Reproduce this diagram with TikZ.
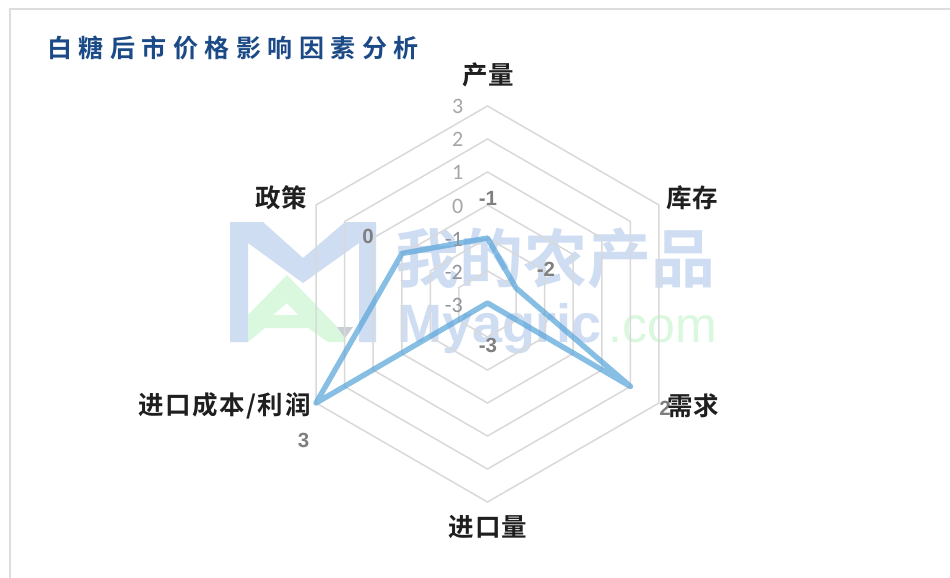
\documentclass[tikz,border=0pt]{standalone}
\usepackage{fontspec}
\setmainfont{Liberation Sans}
\newfontfamily\cjkwm[BoldFont={Noto Sans CJK SC Bold}]{Noto Sans CJK SC}
\newfontfamily\cjktitle[LetterSpace=26,BoldFont={Noto Sans CJK SC Bold}]{Noto Sans CJK SC}
\newfontfamily\cjklab[LetterSpace=3,BoldFont={Noto Sans CJK SC Bold}]{Noto Sans CJK SC}
\newfontfamily\cjklabwide[LetterSpace=6,BoldFont={Noto Sans CJK SC Bold}]{Noto Sans CJK SC}
\newfontfamily\tickfont{Carlito}
\usetikzlibrary{calc}
\definecolor{gridc}{HTML}{D9D9D9}
\definecolor{framec}{HTML}{DDDDDD}
\definecolor{tickc}{HTML}{A6A6A6}
\definecolor{tickd}{HTML}{8F939A}
\definecolor{datac}{HTML}{7F7F7F}
\definecolor{seriesc}{HTML}{5AA5DA}
\definecolor{wmblue}{HTML}{CFDDF3}
\definecolor{wmgreen}{HTML}{DAF8DE}
\definecolor{wmgrey}{HTML}{C9CED4}
\definecolor{titlec}{HTML}{1C4A86}
\tikzset{
  x=1pt,y=-1pt,
  ringline/.style={draw=gridc,line width=1.5pt,line join=miter},
  framel/.style={draw=framec,line width=2pt},
  serieline/.style={draw=seriesc,line width=5.4pt,opacity=.72,line join=round},
  catlab/.style={font=\fontsize{25.5}{25.5}\selectfont\cjklab\bfseries,text=black!88,inner sep=0pt},
  ticklab/.style={font=\fontsize{22}{22}\selectfont\tickfont,text=tickc,inner sep=0pt,anchor=east},
  datalab/.style={font=\fontsize{20.5}{20.5}\selectfont\bfseries,text=datac,inner sep=0pt},
  wmtext/.style={inner sep=0pt,anchor=base west},
}
\begin{document}
\begin{tikzpicture}
\useasboundingbox (0,0) rectangle (950,578);
\fill[white] (0,0) rectangle (950,578);
% frame
\coordinate (fa) at (9.5,578);
\coordinate (fb) at (9.5,9.5);
\coordinate (fc) at (950,9.5);
\draw[framel] (fa) -- (fb) -- (fc);
% watermark logo
\fill[wmblue] (230,222) -- (263,222) -- (303,258) -- (345,222) -- (376,222) -- (376,342) -- (359,342) -- (359,243) -- (303,283) -- (248,243) -- (248,342) -- (230,342) -- cycle;
\fill[wmgreen,even odd rule] (248,342) -- (248,315) -- (287,275) -- (345,335) -- (345,342) -- (328,342) -- (308,328) -- (265,328) -- cycle
  (273,315) -- (287,303) -- (298,315) -- cycle;
\fill[wmgrey] (337,327) -- (353,327) -- (345,338) -- cycle;
\node[wmtext,text=wmblue,font=\fontsize{64}{64}\selectfont\cjkwm\bfseries] (wmcn) at (395,282) {我的农产品};
\node[wmtext,text=wmblue,font=\fontsize{54}{54}\selectfont\bfseries] (wmen) at (397,342) {Myagric};
\node[inner sep=0pt,anchor=base east,text=wmgreen,font=\fontsize{50}{50}\selectfont] (wmcom) at (717,342) {.com};
% grid rings
\begin{scope}[shift={(487.5,304)}]
\foreach \r in {33,66,99,132,165,198}
  \draw[ringline] (30:\r) -- (90:\r) -- (150:\r) -- (210:\r) -- (270:\r) -- (330:\r) -- cycle;
\end{scope}
% series
\coordinate (s1) at (487.5,238);
\coordinate (s2) at (516,288);
\coordinate (s3) at (630.5,386.5);
\coordinate (s4) at (487.5,303);
\coordinate (s5) at (316,403);
\coordinate (s6) at (402,253.5);
\draw[serieline] (s1) -- (s2) -- (s3) -- (s4) -- (s5) -- (s6) -- cycle;
% axis ticks
\node[ticklab] (t3) at (463.5,106) {3};
\node[ticklab] (t2) at (463.5,139) {2};
\node[ticklab] (t1) at (463.5,172.5) {1};
\node[ticklab] (t0) at (463.5,206) {0};
\node[ticklab,text=tickd] (tm1) at (463,239) {-1};
\node[ticklab,text=tickd] (tm2) at (463,272) {-2};
\node[ticklab,text=tickd] (tm3) at (463,305) {-3};
% data labels
\node[datalab] (d1) at (488,198.5) {-1};
\node[datalab] (d2) at (546,269.5) {-2};
\node[datalab] (d3) at (665,408) {2};
\node[datalab] (d4) at (488,345.5) {-3};
\node[datalab] (d5) at (303.5,440) {3};
\node[datalab] (d6) at (368,236) {0};
% category labels
\node[catlab] (c1) at (488,75) {产量};
\node[catlab] (c2) at (692,198) {库存};
\node[catlab] (c3) at (693,406) {需求};
\node[catlab] (c4) at (488,527) {进口量};
\node[catlab,font=\fontsize{25.5}{25.5}\selectfont\cjklabwide\bfseries] (c5) at (224.5,405.5) {进口成本/利润};
\node[catlab] (c6) at (281.5,198) {政策};
% title
\node[inner sep=0pt,anchor=west,text=titlec,font=\fontsize{25}{25}\selectfont\cjktitle\bfseries] (title) at (47,47.5) {白糖后市价格影响因素分析};
\end{tikzpicture}
\end{document}
